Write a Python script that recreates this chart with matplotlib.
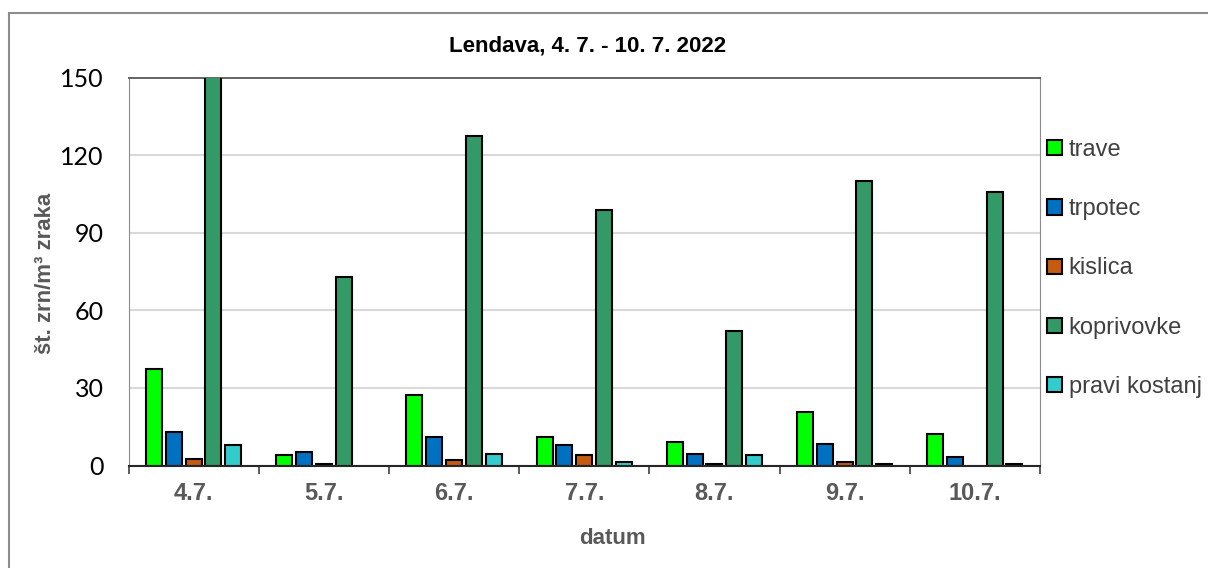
import numpy as np
import matplotlib
matplotlib.use("Agg")
import matplotlib.pyplot as plt
from matplotlib.patches import Rectangle, Patch

# podatki (odčitano z grafa)
dates = ["4.7.", "5.7.", "6.7.", "7.7.", "8.7.", "9.7.", "10.7."]
series = ["trave", "trpotec", "kislica", "koprivovke", "pravi kostanj"]
trave = [37.5, 3.9, 27.3, 11.0, 9.2, 20.8, 12.3]
trpotec = [13.1, 5.2, 11.0, 7.8, 4.6, 8.4, 3.3]
kislica = [2.6, 0.6, 2.1, 3.9, 0.6, 1.3, 0.0]
koprivovke = [160.0, 72.7, 127.2, 98.6, 52.0, 109.8, 105.8]
pravi_kostanj = [7.8, 0.0, 4.4, 1.4, 3.9, 0.6, 0.6]
colors = ["#00ff00", "#0070c0", "#c55a11", "#339966", "#33cccc"]

W, H = 1208, 568
fig = plt.figure(figsize=(W / 100, H / 100), dpi=100)
ax = fig.add_axes([128.5 / W, 1 - 465.5 / H, (1040 - 128.5) / W, (465.5 - 77.5) / H])

# okvir slike
fig.patches.append(Rectangle((9 / W, -0.05), 1.2, 0.05 + 1 - 13.5 / H, transform=fig.transFigure,
                             fill=False, edgecolor="#8c8c8c", linewidth=1.5))

x = np.arange(len(dates))
pitch = 0.152
width = 0.123
data = [trave, trpotec, kislica, koprivovke, pravi_kostanj]
for i, vals in enumerate(data):
    vals = np.array(vals)
    lw = np.where(vals > 0, 1.5, 0.0)
    ax.bar(x + (i - 2) * pitch, vals, width, color=colors[i], edgecolor="black",
           linewidth=lw, zorder=3)

ax.set_xlim(-0.5, len(dates) - 0.5)
ax.set_ylim(0, 150)
ax.set_yticks([0, 30, 60, 90, 120, 150])
ax.yaxis.grid(True, color="#d9d9d9", linewidth=1.5, zorder=0)
ax.tick_params(axis="y", length=0, pad=18, labelsize=18, labelcolor="black")
for lab in ax.get_yticklabels():
    lab.set_family(["Lato", "DejaVu Sans"])

ax.set_xticks(x)
ax.set_xticklabels(dates, fontsize=17, fontweight="bold", color="#595959",
                   family="Liberation Sans")
ax.set_xticks(np.arange(-0.5, len(dates), 1.0), minor=True)
ax.tick_params(axis="x", which="major", length=0, pad=12)
ax.tick_params(axis="x", which="minor", length=6, width=1.2, color="#404040", direction="out")

ax.spines["left"].set_color("#8c8c8c")
ax.spines["right"].set_color("#8c8c8c")
ax.spines["top"].set_color("#595959")
ax.spines["bottom"].set_color("#262626")
ax.spines["bottom"].set_linewidth(1.5)
ax.spines["top"].set_linewidth(1.3)
ax.spines["bottom"].set_zorder(4)

fig.text(588 / W, 1 - 46 / H, "Lendava, 4. 7. - 10. 7. 2022", ha="center", va="center",
         fontsize=16, fontweight="bold", color="black", family="Liberation Sans")
fig.text(612 / W, 1 - 539 / H, "datum", ha="center", va="center",
         fontsize=16, fontweight="bold", color="#595959", family="Liberation Sans")
fig.text(46 / W, 1 - 273 / H, "št. zrn/m³ zraka", ha="center", va="center", rotation=90,
         fontsize=16, fontweight="bold", color="#595959", family="Liberation Sans")

handles = [Patch(facecolor=c, edgecolor="black", linewidth=1.5) for c in colors]
leg = ax.legend(handles, series, loc="center left", bbox_to_anchor=(1040 / W + 0.002, 1 - 268.5 / H),
                bbox_transform=fig.transFigure, frameon=False, fontsize=17,
                handlelength=0.62, handleheight=0.62, handletextpad=0.3,
                labelspacing=1.58, borderaxespad=0, borderpad=0.2)
for t in leg.get_texts():
    t.set_color("#404040")
    t.set_family("Liberation Sans")

fig.savefig("out.png", dpi=100)
